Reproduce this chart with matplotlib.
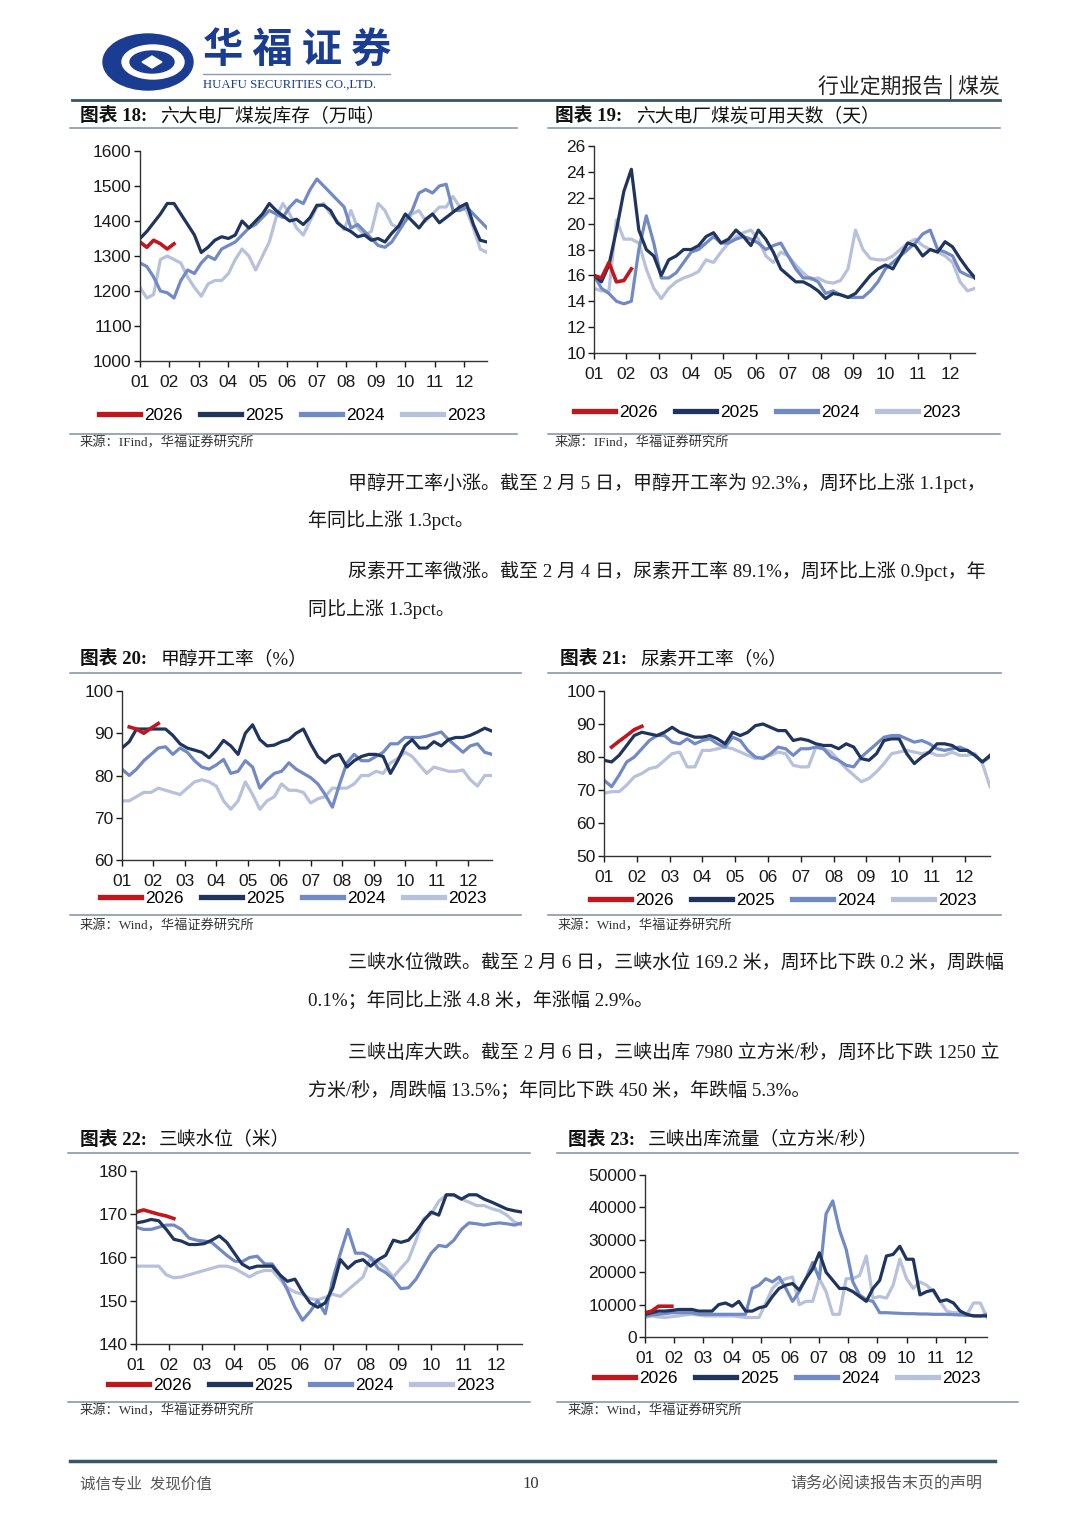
import numpy as np
import matplotlib
matplotlib.use('Agg')
import matplotlib.pyplot as plt
from matplotlib.lines import Line2D
from matplotlib.patches import Ellipse, Polygon

plt.rcParams['font.family'] = ['Liberation Sans', 'Noto Sans CJK SC']

W, H = 1080, 1527

months = ['01', '02', '03', '04', '05', '06', '07', '08', '09', '10', '11', '12']
years = ['2026', '2025', '2024', '2023']
colors = {'2026': '#c0161c', '2025': '#1f355e', '2024': '#7189c4', '2023': '#b7c1dc'}

# weekly values, week 0 = first week of January
# 图表18 六大电厂煤炭库存（万吨）
stock_26 = [1340, 1325, 1345, 1335, 1320, 1335]
stock_25 = [1350, 1370, 1395, 1420, 1450, 1450, 1420, 1390, 1360, 1310,
            1325, 1345, 1355, 1350, 1360, 1400, 1380, 1400, 1420, 1450,
            1430, 1415, 1400, 1405, 1390, 1410, 1445, 1445, 1430, 1395,
            1380, 1370, 1355, 1360, 1345, 1350, 1340, 1365, 1385, 1420,
            1400, 1380, 1405, 1420, 1395, 1410, 1425, 1440, 1450, 1390,
            1345, 1340]
stock_24 = [1280, 1270, 1240, 1200, 1195, 1180, 1230, 1260, 1250, 1280,
            1300, 1290, 1320, 1330, 1340, 1360, 1380, 1390, 1410, 1430,
            1420, 1410, 1440, 1460, 1450, 1490, 1520, 1500, 1480, 1460,
            1440, 1380, 1390, 1370, 1350, 1330, 1325, 1340, 1370, 1400,
            1430, 1480, 1490, 1480, 1500, 1505, 1430, 1430, 1440, 1420,
            1400, 1380]
stock_23 = [1210, 1180, 1190, 1290, 1300, 1290, 1280, 1240, 1210, 1185,
            1220, 1230, 1230, 1250, 1290, 1320, 1300, 1260, 1300, 1340,
            1410, 1450, 1420, 1380, 1360, 1400, 1440, 1450, 1420, 1400,
            1375, 1430, 1380, 1360, 1370, 1450, 1430, 1390, 1380, 1400,
            1420, 1430, 1400, 1420, 1440, 1440, 1470, 1440, 1430, 1380,
            1320, 1310]

# 图表19 六大电厂煤炭可用天数（天）
days_26 = [16.0, 15.8, 17.0, 15.5, 15.6, 16.5]
days_25 = [16.0, 15.5, 16.8, 19.5, 22.5, 24.2, 19.5, 18.0, 17.5, 16.0,
           17.2, 17.5, 18.0, 18.0, 18.3, 19.0, 19.3, 18.5, 18.8, 19.5,
           19.0, 18.3, 19.5, 18.8, 17.8, 16.5, 16.0, 15.5, 15.5, 15.2,
           14.8, 14.2, 14.6, 14.5, 14.3, 14.6, 15.3, 16.0, 16.5, 16.8,
           16.5, 17.5, 18.5, 18.3, 17.5, 18.0, 17.8, 18.6, 18.2, 17.3,
           16.5, 15.8]
days_24 = [16.0, 15.0, 14.6, 14.0, 13.8, 14.0, 18.0, 20.6, 18.5, 15.8,
           15.8, 16.2, 17.0, 17.8, 18.0, 18.5, 19.0, 18.5, 18.5, 18.8,
           19.0, 18.8, 18.5, 18.0, 18.3, 18.5, 17.5, 16.5, 15.8, 15.8,
           15.5, 14.6, 14.8, 14.5, 14.3, 14.3, 14.3, 14.8, 15.5, 16.5,
           17.0, 17.5, 18.0, 18.5, 19.2, 19.5, 18.0, 17.8, 17.5, 16.3,
           16.0, 15.8]
days_23 = [15.0, 14.8, 14.8, 20.3, 18.8, 18.8, 18.5, 16.5, 15.0, 14.2,
           15.0, 15.5, 15.8, 16.0, 16.3, 17.2, 17.0, 17.8, 18.5, 19.0,
           19.3, 19.5, 18.8, 17.5, 17.0, 17.8, 17.5, 16.8, 16.2, 15.7,
           15.8, 15.5, 15.4, 15.6, 16.5, 19.5, 18.0, 17.3, 17.2, 17.2,
           17.5, 18.0, 18.5, 18.8, 18.3, 18.0, 17.8, 17.5, 17.0, 15.5,
           14.8, 15.0]

# 图表20 甲醇开工率（%）
meth_26 = [91.5, 91.0, 90.0, 91.2, 92.3]
meth_25 = [86.5, 88.0, 91.0, 91.0, 91.0, 91.0, 91.0, 89.5, 87.5, 86.5,
           86.0, 85.5, 84.2, 86.0, 88.3, 87.0, 85.0, 90.0, 92.0, 88.5,
           87.0, 87.2, 88.0, 88.5, 90.0, 91.0, 87.5, 84.5, 83.0, 84.5,
           85.0, 82.0, 83.5, 84.5, 85.0, 85.0, 84.5, 80.5, 83.5, 87.0,
           88.5, 86.5, 86.5, 88.0, 87.0, 88.5, 89.0, 89.0, 89.5, 90.3,
           91.2, 90.5]
meth_24 = [81.5, 80.0, 81.5, 83.5, 85.0, 86.5, 86.8, 85.0, 86.5, 85.5,
           83.5, 82.0, 81.5, 82.5, 83.8, 80.5, 81.0, 83.5, 82.0, 77.0,
           79.0, 80.5, 81.0, 83.0, 81.5, 80.5, 79.5, 78.0, 75.5, 72.5,
           78.0, 83.0, 85.0, 83.5, 83.5, 84.5, 85.5, 87.5, 87.5, 89.0,
           89.0, 89.0, 89.3, 89.8, 90.3, 88.5, 87.0, 85.5, 87.0, 87.5,
           85.5, 85.0]
meth_23 = [74.0, 74.0, 75.0, 76.0, 76.0, 77.0, 76.5, 76.0, 75.5, 77.0,
           78.5, 79.0, 78.5, 77.5, 74.0, 72.0, 74.0, 78.5, 75.5, 72.0,
           74.0, 75.0, 78.0, 76.5, 76.5, 76.0, 73.5, 74.5, 75.0, 77.0,
           77.0, 77.0, 78.0, 80.0, 80.0, 81.0, 80.5, 83.0, 84.0, 85.5,
           84.5, 82.5, 80.5, 82.0, 81.5, 81.0, 81.0, 81.3, 79.0, 77.5,
           80.0, 80.0]

# 图表21 尿素开工率（%）
urea_26 = [83.0, 84.8, 86.5, 88.3, 89.3]
urea_25 = [79.0, 78.5, 80.5, 83.5, 86.5, 87.5, 87.0, 86.5, 87.5, 89.0,
           87.5, 86.8, 86.0, 86.0, 86.5, 85.5, 84.0, 87.5, 86.5, 87.5,
           89.5, 90.0, 89.0, 88.0, 88.0, 85.0, 85.5, 85.0, 84.0, 83.5,
           83.5, 82.5, 84.0, 83.0, 79.5, 79.0, 81.0, 85.0, 85.5, 85.5,
           81.0, 78.0, 80.0, 81.5, 84.0, 84.0, 83.5, 82.0, 82.0, 80.5,
           78.5, 80.5]
urea_24 = [73.0, 71.0, 74.5, 78.5, 80.0, 82.5, 85.0, 86.5, 86.5, 84.5,
           84.0, 85.5, 84.0, 85.0, 85.5, 84.0, 83.0, 86.0, 85.0, 82.0,
           80.0, 79.5, 81.0, 83.0, 82.5, 80.5, 82.5, 82.5, 83.0, 82.5,
           80.0, 79.0, 77.5, 77.0, 80.0, 82.0, 84.0, 86.0, 86.5, 86.5,
           85.5, 84.5, 85.0, 84.0, 82.5, 82.0, 82.5, 83.0, 82.0, 80.5,
           78.5, 80.0]
urea_23 = [69.0, 69.5, 69.5, 71.5, 74.0, 75.0, 76.5, 77.0, 79.0, 81.0,
           81.5, 77.0, 77.0, 82.0, 82.0, 82.5, 83.0, 82.5, 81.5, 80.5,
           79.5, 80.0, 80.5, 81.5, 81.0, 77.5, 77.0, 77.0, 83.0, 82.5,
           81.5, 79.0, 76.5, 74.5, 72.5, 73.5, 75.5, 78.0, 81.0, 81.5,
           82.0, 81.5, 81.0, 81.5, 80.5, 80.5, 81.5, 80.5, 80.5, 81.0,
           78.0, 71.0]

# 图表22 三峡水位（米）
level_26 = [170.5, 171.0, 170.5, 170.0, 169.6, 169.0]
level_25 = [168.0, 168.3, 168.8, 168.5, 166.5, 164.2, 163.8, 163.0, 163.0, 163.2,
            164.0, 165.0, 163.5, 161.0, 158.5, 157.5, 158.0, 158.0, 158.0, 156.0,
            154.5, 155.0, 152.0, 149.5, 148.5, 149.5, 153.0, 159.5, 157.5, 159.0,
            159.5, 158.0, 159.5, 160.5, 164.0, 163.5, 164.0, 166.0, 168.5, 170.5,
            169.8, 174.5, 174.5, 173.5, 174.5, 174.5, 173.5, 172.8, 172.0, 171.2,
            170.8, 170.5]
level_24 = [167.0, 166.5, 166.5, 167.0, 167.5, 167.5, 166.5, 164.5, 164.0, 163.8,
            163.5, 162.0, 160.5, 159.2, 159.0, 160.0, 160.3, 158.5, 158.5, 156.0,
            152.5, 148.5, 145.5, 147.5, 150.0, 147.0, 155.0, 161.0, 166.5, 161.0,
            161.0, 160.0, 157.5, 156.5, 155.0, 152.8, 153.0, 155.0, 158.0, 161.0,
            162.8, 162.5, 164.0, 166.5, 168.0, 167.8, 167.5, 167.8, 168.0, 167.8,
            167.5, 168.0]
level_23 = [158.0, 158.0, 158.0, 158.0, 156.0, 155.3, 155.5, 156.0, 156.5, 157.0,
            157.5, 158.0, 158.0, 157.5, 156.5, 155.5, 156.5, 157.0, 157.0, 155.0,
            153.0, 152.0, 151.5, 150.5, 150.2, 150.8, 151.5, 151.0, 152.5, 154.0,
            155.5, 160.0, 159.0, 157.5, 155.5, 157.5, 159.5, 164.0, 169.0, 170.0,
            173.0, 174.5, 174.3, 173.5, 172.8, 172.0, 172.0, 171.3, 170.8, 169.8,
            168.2, 167.5]

# 图表23 三峡出库流量（立方米/秒）
flow_26 = [7500, 8000, 9500, 9500, 9500]
flow_25 = [7000, 7500, 8000, 8000, 8200, 8500, 8500, 8500, 8000, 8000,
           8000, 10000, 10500, 9500, 11000, 8000, 8000, 9000, 9500, 12500,
           15000, 16000, 16500, 14500, 18000, 21000, 26000, 20000, 17500, 15000,
           15000, 14000, 12500, 11000, 15000, 17500, 25000, 25500, 28000, 24000,
           24000, 13000, 14000, 14500, 11000, 11500, 10500, 8000, 7000, 6500,
           6500, 6500]
flow_24 = [6500, 6800, 7000, 7200, 7500, 7500, 7500, 7500, 7000, 7000,
           7000, 7000, 7000, 7000, 7000, 7000, 15000, 16000, 18000, 17000,
           18500, 15000, 11000, 14000, 18000, 23000, 18000, 38000, 42000, 33000,
           27000, 17000, 13000, 11500, 11000, 7500, 7500, 7400, 7300, 7200,
           7200, 7100, 7100, 7000, 7000, 7000, 6900, 6800, 6700, 6600,
           6500, 7000]
flow_23 = [6000, 6500, 6200, 6000, 6300, 6500, 6800, 7000, 6800, 6500,
           6500, 6500, 6500, 6500, 6300, 6000, 6000, 6000, 10500, 15000,
           17000, 18000, 18500, 10000, 11000, 11000, 18000, 14000, 7000, 7000,
           18000, 18000, 19000, 25000, 12000, 12500, 12000, 16000, 24000, 18000,
           15000, 17000, 16000, 14000, 11000, 8000, 7500, 7500, 7000, 10500,
           10500, 6000]

fig = plt.figure(figsize=(W / 100, H / 100), dpi=100)
fig.patch.set_facecolor('white')

serif_cjk = ['Liberation Serif', 'Noto Sans CJK SC']


def fx(x):
    return x / W


def fy(y):
    return 1 - y / H


def hline(x0, x1, y, color='#7f8fa3', lw=1.1):
    fig.add_artist(Line2D([fx(x0), fx(x1)], [fy(y), fy(y)], color=color, lw=lw,
                          transform=fig.transFigure))


def put(x, y, s, **kw):
    kw.setdefault('va', 'center')
    fig.text(fx(x), fy(y), s, **kw)


def draw(box, s26, s25, s24, s23, start26, ylim, yticks, leg_xy):
    l, t, r, b = box
    ax = fig.add_axes([fx(l), fy(b), (r - l) / W, (b - t) / H])
    wk = 12 / 52
    for name, vals in (('2023', s23), ('2024', s24), ('2025', s25)):
        ax.plot(np.arange(len(vals)) * wk, vals, color=colors[name], lw=2.3,
                solid_joinstyle='round')
    ax.plot((np.arange(len(s26)) + start26) * wk, s26, color=colors['2026'], lw=2.6,
            solid_joinstyle='round')
    ax.set_xlim(0, 51 * wk)
    ax.set_ylim(*ylim)
    ax.set_yticks(yticks)
    ax.set_xticks(range(12))
    ax.set_xticklabels(months)
    for s in ('top', 'right'):
        ax.spines[s].set_visible(False)
    for s in ('left', 'bottom'):
        ax.spines[s].set_color('#333333')
        ax.spines[s].set_linewidth(1)
    ax.tick_params(labelsize=12.5, colors='#1a1a1a', length=4, width=1)
    ax.tick_params(axis='x', pad=6)
    ax.tick_params(axis='y', pad=2)
    ax.patch.set_alpha(0)
    handles = [Line2D([], [], color=colors[y], lw=3.8) for y in years]
    ax.legend(handles, years, loc='center', bbox_to_anchor=(fx(leg_xy[0]), fy(leg_xy[1])),
              bbox_transform=fig.transFigure, ncol=4, frameon=False, fontsize=12.5,
              handlelength=2.4, handletextpad=0.2, columnspacing=1.0)
    return ax


# header
fig.add_artist(Ellipse((fx(148), fy(62)), 90 / W, 56 / H, color='#1a3d91', transform=fig.transFigure))
fig.add_artist(Ellipse((fx(153), fy(62)), 62 / W, 34 / H, color='white', transform=fig.transFigure))
fig.add_artist(Ellipse((fx(152), fy(62)), 44 / W, 22 / H, color='#1a3d91', transform=fig.transFigure))
fig.add_artist(Polygon([(fx(142), fy(62)), (fx(152), fy(56)), (fx(162), fy(62)), (fx(152), fy(68))],
                       closed=True, color='white', transform=fig.transFigure))
put(203, 50, '华 福 证 券', fontsize=29, fontweight='bold', color='#1a3d91',
    family=['Noto Sans CJK SC'])
hline(203, 390, 74, color='#8a9ab8', lw=1)
put(203, 85, 'HUAFU SECURITIES CO.,LTD.', fontsize=9.2, color='#1a3d91',
    family=['Liberation Serif'])
put(1000, 87, '行业定期报告 | 煤炭', fontsize=15, color='#222222', ha='right',
    family=['Noto Sans CJK SC'])
hline(72, 1000, 100, color='#36566b', lw=2)

# chart titles
titles = [(80, 160, 116, '18', '六大电厂煤炭库存（万吨）'),
          (555, 636, 116, '19', '六大电厂煤炭可用天数（天）'),
          (80, 161, 659, '20', '甲醇开工率（%）'),
          (560, 640, 659, '21', '尿素开工率（%）'),
          (80, 159, 1140, '22', '三峡水位（米）'),
          (568, 648, 1140, '23', '三峡出库流量（立方米/秒）')]
for x0, x1, y, num, name in titles:
    put(x0, y, '图表 ' + num + ':', fontsize=13.5, fontweight='bold', color='#111111', family=serif_cjk)
    put(x1, y, name, fontsize=13.5, color='#111111', family=serif_cjk)

# title / source rules
for y in (128, 434):
    hline(70, 517, y)
    hline(548, 1000, y)
for y in (673, 915):
    hline(70, 521, y)
    hline(548, 1001, y)
for y in (1153, 1402):
    hline(68, 530, y)
    hline(557, 1018, y)

sources = [(80, 443, '来源：IFind，华福证券研究所'), (555, 443, '来源：IFind，华福证券研究所'),
           (80, 926, '来源：Wind，华福证券研究所'), (558, 926, '来源：Wind，华福证券研究所'),
           (80, 1411, '来源：Wind，华福证券研究所'), (568, 1411, '来源：Wind，华福证券研究所')]
for x, y, s in sources:
    put(x, y, s, fontsize=9.5, color='#333333', family=serif_cjk)

# body text
paras = [(348, 483, '甲醇开工率小涨。截至 2 月 5 日，甲醇开工率为 92.3%，周环比上涨 1.1pct，'),
         (308, 520, '年同比上涨 1.3pct。'),
         (348, 571, '尿素开工率微涨。截至 2 月 4 日，尿素开工率 89.1%，周环比上涨 0.9pct，年'),
         (308, 609, '同比上涨 1.3pct。'),
         (348, 964, '三峡水位微跌。截至 2 月 6 日，三峡水位 169.2 米，周环比下跌 0.2 米，周跌幅'),
         (308, 1001, '0.1%；年同比上涨 4.8 米，年涨幅 2.9%。'),
         (348, 1053, '三峡出库大跌。截至 2 月 6 日，三峡出库 7980 立方米/秒，周环比下跌 1250 立'),
         (308, 1090, '方米/秒，周跌幅 13.5%；年同比下跌 450 米，年跌幅 5.3%。')]
for x, y, s in paras:
    put(x, y, s, fontsize=13.7, color='#1a1a1a', family=serif_cjk)

# charts
draw((140, 151, 487, 361), stock_26, stock_25, stock_24, stock_23, 0,
     (1000, 1600), range(1000, 1601, 100), (292, 415))
draw((594, 146, 975, 353), days_26, days_25, days_24, days_23, 0,
     (10, 26), range(10, 27, 2), (767, 412))
draw((122, 691, 492, 860), meth_26, meth_25, meth_24, meth_23, 1,
     (60, 100), range(60, 101, 10), (293, 898))
draw((604, 691, 990, 856), urea_26, urea_25, urea_24, urea_23, 1,
     (50, 100), range(50, 101, 10), (783, 900))
draw((136, 1171, 522, 1344), level_26, level_25, level_24, level_23, 0,
     (140, 180), range(140, 181, 10), (301, 1385))
draw((645, 1175, 987, 1337), flow_26, flow_25, flow_24, flow_23, 0,
     (0, 50000), range(0, 50001, 10000), (787, 1378))

# footer
hline(70, 995, 1461, color='#36566b', lw=2.5)
put(80, 1484, '诚信专业  发现价值', fontsize=11.2, color='#555555', family=serif_cjk)
put(531, 1484, '10', fontsize=12, color='#333333', ha='center', family=serif_cjk)
put(982, 1484, '请务必阅读报告末页的声明', fontsize=11.5, color='#555555', ha='right', family=serif_cjk)

fig.savefig('out.png', dpi=100)
